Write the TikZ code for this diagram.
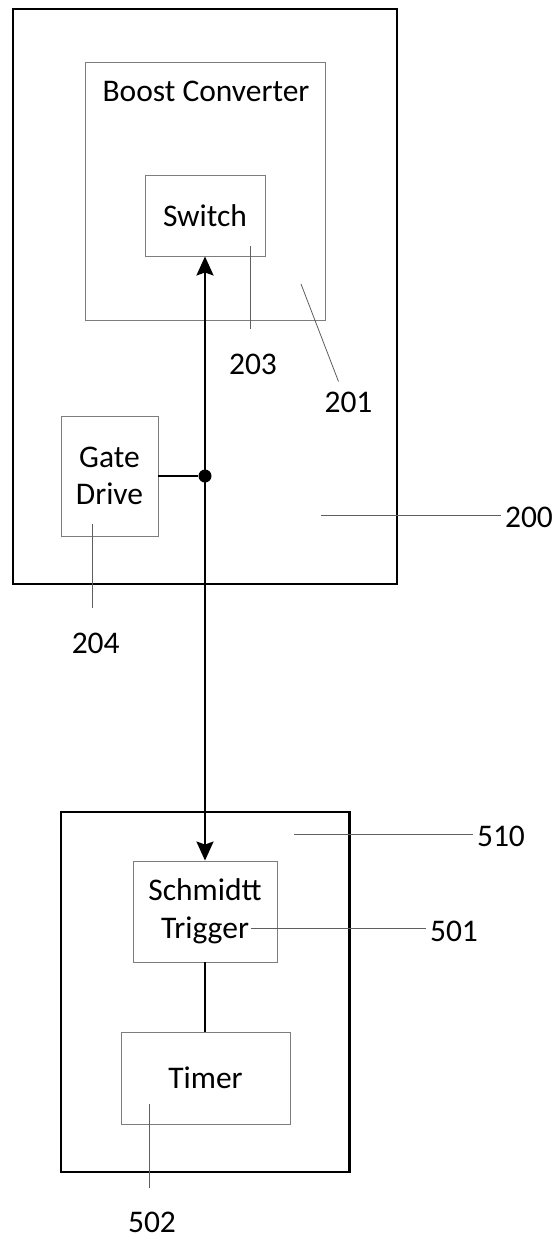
\documentclass[tikz,border=0pt]{standalone}
\usepackage{fontspec}
\setmainfont{Carlito}
\usetikzlibrary{arrows.meta, positioning, calc}
\definecolor{frameborder}{RGB}{0,0,0}
\definecolor{blockborder}{RGB}{125,125,125}
\definecolor{leadercol}{RGB}{95,95,95}

\begin{document}
\begin{tikzpicture}[
                        x=1pt, y=-1pt,
                        font=\fontsize{31.5}{37.5}\selectfont,
                        >={Stealth[length=19pt, width=17pt, inset=3pt]},
                        frame/.style={
                                rectangle, draw=frameborder,
                                line width=2.2pt, inner sep=0pt
                            },
                        block/.style={
                                rectangle, draw=blockborder,
                                line width=0.9pt, align=center, inner sep=0pt
                            },
                        refnum/.style={inner sep=0pt},
                        leader/.style={draw=leadercol, line width=0.8pt},
                        wire/.style={draw=black, line width=2.4pt},
                        joint/.style={circle, fill=black, inner sep=0pt, minimum size=13pt}
                    ]

                    \useasboundingbox (0,0) rectangle (556,1240);

                    % ===== Upper assembly (200) =====
                    \node[frame, minimum width=384pt, minimum height=575pt] (unit) at (205,296.5) {};
                    \node[block, minimum width=240pt, minimum height=258pt] (boost) at (205.5,191) {};
                    \node[refnum, anchor=base] (boosttitle) at (206,101.7) {Boost Converter};
                    \node[block, minimum width=120pt, minimum height=81pt] (switch) at (205,215.5) {Switch};
                    \node[block, minimum width=97pt, minimum height=120pt] (gate) at (109.5,476) {Gate\\Drive};

                    % ===== Lower assembly (510) =====
                    \node[frame, minimum width=288.5pt, minimum height=360pt] (sensor) at (205.25,992) {};
                    \node[block, minimum width=144pt, minimum height=101pt] (schmitt) at (205,911.5) {Schmidtt\\Trigger};
                    \node[block, minimum width=169pt, minimum height=92pt] (timer) at (205.5,1078) {Timer};

                    % ===== Reference numerals =====
                    \node[refnum] (lab203) at (253,364.5) {203};
                    \node[refnum] (lab201) at (348.5,402.5) {201};
                    \node[refnum] (lab200) at (529,517.7) {200};
                    \node[refnum] (lab204) at (95.7,643) {204};
                    \node[refnum] (lab510) at (501,836.7) {510};
                    \node[refnum] (lab501) at (454,931) {501};
                    \node[refnum] (lab502) at (152,1222) {502};

                    % ===== Leader lines =====
                    \coordinate (tip203) at (250,246);    \coordinate (end203) at (250,329);
                    \coordinate (tip201) at (301,284);    \coordinate (end201) at (338.5,381.5);
                    \coordinate (tip200) at (321,515);    \coordinate (end200) at (501,515);
                    \coordinate (tip204) at (92.5,524);   \coordinate (end204) at (92.5,608);
                    \coordinate (tip510) at (294,834);    \coordinate (end510) at (472.5,834);
                    \coordinate (tip501) at (250.5,928);  \coordinate (end501) at (425.5,928);
                    \coordinate (tip502) at (149.5,1104); \coordinate (end502) at (149.5,1188);
                    \foreach \n in {203,201,200,204,510,501,502}
                        \draw[leader] (tip\n) -- (end\n);

                    % ===== Signal wiring =====
                    \draw[wire, <->] (switch.south) -- (schmitt.north);
                    \node[joint] (tap) at (switch.south |- gate.east) {};
                    \draw[wire] (gate.east) -- (tap);
                    \draw[wire] (schmitt.south) -- (schmitt.south |- timer.north);

                \end{tikzpicture}
\end{document}
